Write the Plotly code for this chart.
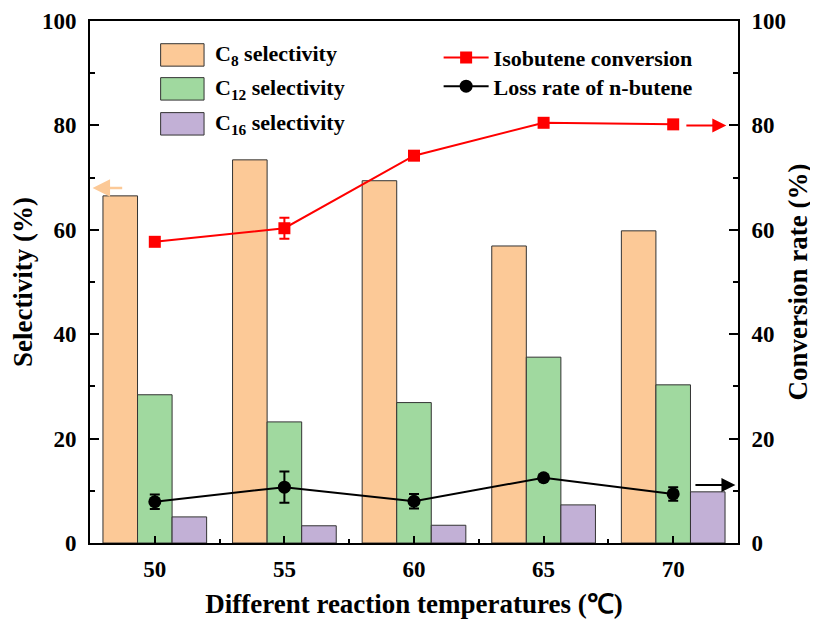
import plotly.graph_objects as go

temps = [50, 55, 60, 65, 70]
c8_sel = [66.5, 73.4, 69.4, 56.9, 59.8]
c12_sel = [28.4, 23.2, 26.9, 35.6, 30.3]
c16_sel = [5.0, 3.3, 3.4, 7.3, 9.8]
iso_conv = [57.7, 60.3, 74.2, 80.5, 80.2]
iso_err = [0.6, 2.0, 0.6, 0.6, 0.5]
loss_rate = [7.9, 10.7, 8.0, 12.5, 9.4]
loss_err = [1.4, 3.0, 1.4, 0.5, 1.3]
bar_names = ["C<sub>8</sub> selectivity", "C<sub>12</sub> selectivity", "C<sub>16</sub> selectivity"]
bar_colors = ["#FCC997", "#A0D99F", "#C2B0D6"]
ytick_vals = [0, 20, 40, 60, 80, 100]

FONT = "Liberation Serif"
fig = go.Figure()
bar_line = dict(color="#333333", width=1)
for vals, nm, col in zip([c8_sel, c12_sel, c16_sel], bar_names, bar_colors):
    fig.add_trace(go.Bar(x=temps, y=vals, name=nm, marker=dict(color=col, line=bar_line),
                         showlegend=False))
fig.add_trace(go.Scatter(x=temps, y=iso_conv, yaxis="y2", name="Isobutene conversion",
                         mode="lines+markers", line=dict(color="#FF0000", width=2),
                         marker=dict(symbol="square", size=12, color="#FF0000"),
                         error_y=dict(type="data", array=iso_err, color="#FF0000", thickness=2, width=5),
                         legend="legend"))
fig.add_trace(go.Scatter(x=temps, y=loss_rate, yaxis="y2", name="Loss rate of n-butene",
                         mode="lines+markers", line=dict(color="#000000", width=2),
                         marker=dict(symbol="circle", size=13, color="#000000"),
                         error_y=dict(type="data", array=loss_err, color="#000000", thickness=2, width=5),
                         legend="legend2"))

# manual legend for bars (large swatches as in the reference)
sw_x0, sw_x1 = 0.109, 0.176
rows_y = [0.935, 0.870, 0.803]
for yc, nm, col in zip(rows_y, bar_names, bar_colors):
    fig.add_shape(type="rect", xref="paper", yref="paper", x0=sw_x0, x1=sw_x1,
                  y0=yc - 0.0215, y1=yc + 0.0215, fillcolor=col, line=dict(color="#333333", width=1))
    fig.add_annotation(xref="paper", yref="paper", x=0.19, y=yc, xanchor="left", yanchor="middle",
                       text=nm, showarrow=False, font=dict(family=FONT, size=22, weight="bold"))

arrow = dict(xref="x", yref="y", axref="x", ayref="y", showarrow=True, text="",
             arrowhead=2, arrowsize=1.4)
fig.add_annotation(**arrow, x=47.6, y=68, ax=48.8, ay=68, arrowcolor="#FCC997", arrowwidth=2.5)
fig.add_annotation(**arrow, x=72.05, y=80.0, ax=70.45, ay=80.0, arrowcolor="#FF0000", arrowwidth=2)
fig.add_annotation(**arrow, x=72.4, y=11.1, ax=70.8, ay=11.1, arrowcolor="#000000", arrowwidth=2)

tickfont = dict(family=FONT, size=23, color="black", weight="bold")
titlefont = dict(family=FONT, size=27, color="black", weight="bold")
legfont = dict(family=FONT, size=22, weight="bold")
yax_common = dict(range=[0, 100], tickvals=ytick_vals, tickfont=tickfont,
                  ticks="inside", ticklen=9, tickwidth=2, tickcolor="black", ticklabelstandoff=7,
                  minor=dict(dtick=10, ticks="inside", ticklen=5, tickwidth=2, tickcolor="black"),
                  showline=True, linecolor="black", linewidth=2, showgrid=False, zeroline=False,
                  automargin=False)
fig.update_layout(
    width=810, height=611,
    margin=dict(l=82, r=80, t=13, b=76),
    paper_bgcolor="white", plot_bgcolor="white",
    barmode="group", bargap=0.2, bargroupgap=0,
    font=dict(family=FONT, color="black"),
    showlegend=True,
    xaxis=dict(range=[47.5, 72.5], tickvals=temps, tickfont=tickfont,
               ticks="inside", ticklen=7, tickwidth=2, tickcolor="black", ticklabelstandoff=4,
               minor=dict(tickvals=[52.5, 57.5, 62.5, 67.5], ticks="inside", ticklen=4, tickwidth=2, tickcolor="black"),
               showline=True, linecolor="black", linewidth=2, mirror=True, showgrid=False, zeroline=False,
               automargin=False,
               title=dict(text="Different reaction temperatures (℃)", font=titlefont, standoff=16)),
    yaxis=dict(**yax_common, title=dict(text="Selectivity (%)", font=titlefont, standoff=3)),
    yaxis2=dict(**yax_common, overlaying="y", side="right",
                title=dict(text="Conversion rate (%)", font=titlefont, standoff=3)),
    legend=dict(x=0.538, y=0.97, xanchor="left", yanchor="top", bgcolor="rgba(0,0,0,0)",
                font=legfont, itemwidth=45),
    legend2=dict(x=0.538, y=0.915, xanchor="left", yanchor="top", bgcolor="rgba(0,0,0,0)",
                 font=legfont, itemwidth=45),
)
fig.write_html("out.html")
